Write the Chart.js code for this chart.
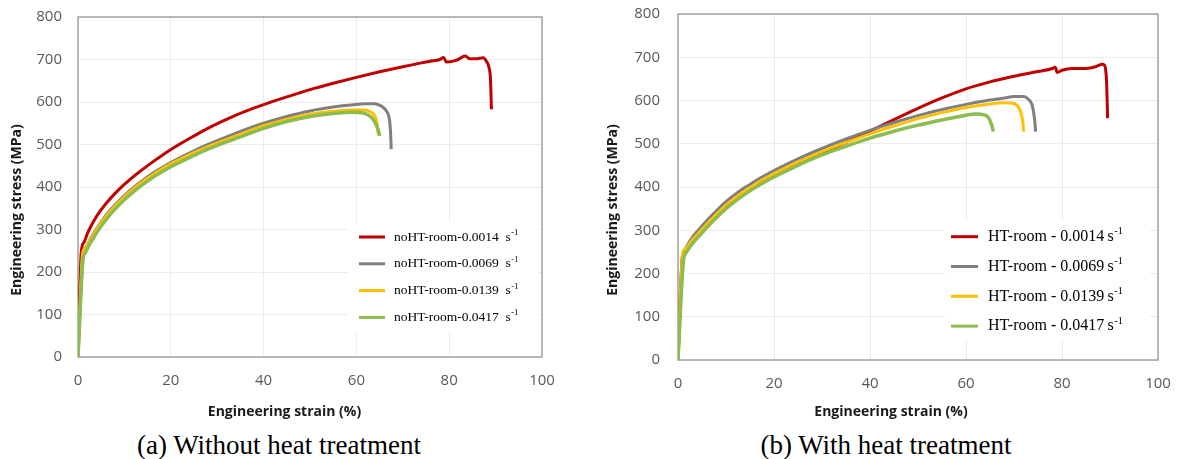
<!DOCTYPE html>
<html lang="en">
<head>
<meta charset="UTF-8">
<title>Engineering stress-strain curves</title>
<script src="https://cdn.jsdelivr.net/npm/chart.js@4"></script>
<style>
  body { margin: 0; background: #fff; width: 1177px; height: 459px; position: relative; overflow: hidden; }
  canvas { position: absolute; top: 0; }
  #chartA { left: 0; }
  #chartB { left: 605px; }
  .caption {
    position: absolute; top: 432px;
    font-family: 'Liberation Serif', 'Times New Roman', serif;
    font-size: 27px; line-height: 27px; color: #000;
    white-space: nowrap; transform: translateX(-50%);
  }
</style>
</head>
<body>
<canvas id="chartA" width="569" height="420"></canvas>
<canvas id="chartB" width="572" height="420"></canvas>
<div class="caption" style="left:279px">(a) Without heat treatment</div>
<div class="caption" style="left:886px">(b) With heat treatment</div>

<script>
// (a) without heat treatment: strain (%) / stress (MPa)
const noHT0014Strain = [0, 0.7, 1.3, 2, 2.7, 3.5, 4.5, 5.5, 6.5, 8, 10, 12, 14, 16.5, 19.7, 24, 28, 32, 36, 40, 45, 50, 55, 60, 65, 70, 74, 76.5, 78, 78.8, 79.4, 81.5, 83.5, 84.4, 86, 87.3, 88, 88.6, 88.9, 89.1];
const noHT0014Stress = [0, 247, 270, 290, 306, 322, 339, 354, 367, 385, 406, 425, 442, 462, 486, 514, 538, 559, 578, 594, 612, 629, 644, 658, 671, 683, 692, 697, 700, 705, 694, 698, 708, 702, 702, 704, 696, 680, 653, 583];
const noHT0069Strain = [0, 1.1, 1.6, 2.2, 3, 4, 5, 6.3, 8, 10, 12, 14, 16.5, 19.7, 24, 28, 32, 36, 40, 45, 50, 55, 59, 62, 64, 65.1, 66, 66.5, 67, 67.2, 67.4, 67.5];
const noHT0069Stress = [0, 238, 254, 268, 284, 302, 318, 337, 358, 380, 399, 416, 435, 456, 480, 500, 518, 535, 550, 566, 579, 588, 593, 596, 596, 592, 585, 578, 566, 552, 520, 489];
const noHT0139Strain = [0, 1.0, 1.4, 2.2, 3, 4, 5, 6.3, 8, 10, 12, 14, 16.5, 19.7, 24, 28, 32, 36, 40, 45, 50, 55, 59, 61.5, 63, 64, 64.4, 64.6, 64.7];
const noHT0139Stress = [0, 245, 254, 267, 282, 300, 316, 334, 355, 377, 396, 413, 432, 453, 476, 495, 512, 528, 544, 559, 571, 578, 581, 581, 577, 567, 552, 537, 522];
const noHT0417Strain = [0, 1.1, 1.6, 2.2, 3, 4, 5, 6.3, 8, 10, 12, 14, 16.5, 19.7, 24, 28, 32, 36, 40, 45, 50, 55, 59, 61.5, 63, 63.8, 64.4, 64.8, 65];
const noHT0417Stress = [0, 232, 246, 259, 274, 292, 308, 327, 348, 370, 389, 406, 425, 446, 469, 489, 506, 522, 538, 554, 566, 573, 576, 574, 566, 556, 543, 530, 520];

// (b) with heat treatment
const ht0014Strain = [0, 0.9, 1.5, 2.2, 3, 4, 5, 6.3, 8, 10, 12.5, 15, 17.5, 20, 25, 30, 35, 40, 45, 50, 55, 60, 65, 70, 75, 78, 78.6, 79, 80, 82, 85, 87, 88.3, 88.8, 89.1, 89.3, 89.5];
const ht0014Stress = [0, 239, 255, 266, 277, 289, 301, 316, 334, 354, 375, 393, 409, 424, 452, 478, 503, 529, 556, 582, 606, 627, 643, 656, 667, 674, 677, 665, 670, 674, 674, 678, 684, 682, 671, 640, 559];
const ht0069Strain = [0, 1.0, 1.5, 2.2, 3, 4, 5, 6.3, 8, 10, 12.5, 15, 17.5, 20, 25, 30, 35, 40, 45, 50, 55, 60, 65, 68, 70, 72, 73, 73.7, 74, 74.3, 74.5];
const ht0069Stress = [0, 240, 256, 270, 284, 297, 310, 326, 345, 366, 388, 406, 423, 438, 465, 489, 511, 531, 549, 565, 579, 591, 601, 606, 609, 609, 603, 592, 578, 555, 528];
const ht0139Strain = [0, 1.0, 1.5, 2.2, 3, 4, 5, 6.3, 8, 10, 12.5, 15, 17.5, 20, 25, 30, 35, 40, 45, 50, 55, 60, 65, 68, 70, 71, 71.6, 71.9, 72];
const ht0139Stress = [0, 250, 256, 266, 278, 290, 302, 318, 337, 358, 380, 398, 416, 431, 458, 482, 503, 523, 541, 558, 572, 584, 592, 595, 593, 583, 565, 545, 528];
const ht0417Strain = [0, 1.2, 1.7, 2.4, 3, 4, 5, 6.3, 8, 10, 12.5, 15, 17.5, 20, 25, 30, 35, 40, 45, 50, 55, 60, 62, 64, 64.8, 65.3, 65.7];
const ht0417Stress = [0, 235, 248, 260, 269, 282, 294, 310, 329, 350, 372, 391, 408, 423, 450, 474, 494, 513, 529, 543, 555, 566, 569, 566, 558, 545, 528];

const noHTLabels = ['noHT-room-0.0014', 'noHT-room-0.0069', 'noHT-room-0.0139', 'noHT-room-0.0417'];
const htLabels = ['HT-room - 0.0014', 'HT-room - 0.0069', 'HT-room - 0.0139', 'HT-room - 0.0417'];
const seriesColors = ['#c00000', '#7f7f7f', '#ffc000', '#8cbb4e'];
const xTickValues = [0, 20, 40, 60, 80, 100];
const yTickValues = [0, 100, 200, 300, 400, 500, 600, 700, 800];

// frame round the plot area
const plotFrame = {
  id: 'plotFrame',
  beforeDatasetsDraw(chart) {
    const { ctx, chartArea: a } = chart;
    ctx.save();
    ctx.strokeStyle = '#a3a3a3';
    ctx.lineWidth = 1.5;
    ctx.strokeRect(a.left, a.top, a.right - a.left, a.bottom - a.top);
    ctx.restore();
  }
};

// legend inside the plot, with "s-1" as superscript
const legendInside = {
  id: 'legendInside',
  afterDraw(chart, args, o) {
    const ctx = chart.ctx;
    ctx.save();
    ctx.fillStyle = '#fff';
    ctx.fillRect(o.box[0], o.box[1], o.box[2], o.box[3]);
    chart.data.datasets.forEach((ds, i) => {
      const y = o.top + i * o.step;
      ctx.strokeStyle = ds.borderColor;
      ctx.lineWidth = 3;
      ctx.beginPath();
      ctx.moveTo(o.lineX[0], y);
      ctx.lineTo(o.lineX[1], y);
      ctx.stroke();
      ctx.fillStyle = '#000';
      ctx.textAlign = 'left';
      ctx.textBaseline = 'middle';
      ctx.font = o.size + 'px "Liberation Serif", serif';
      const main = ds.label + o.sep + 's';
      ctx.fillText(main, o.textX, y);
      const w = ctx.measureText(main).width;
      ctx.font = (o.size * 0.64) + 'px "Liberation Serif", serif';
      ctx.fillText('-1', o.textX + w + 0.5, y - o.size * 0.32);
    });
    ctx.restore();
  }
};

const tickFont = { family: 'Open Sans', size: 15 };
const titleFont = { family: 'Open Sans', size: 14, weight: 'bold', lineHeight: 1.2 };

function makeChart(id, labels, series, lay) {
  const datasets = series.map((s, i) => ({
    label: labels[i],
    data: s[0].map((x, j) => ({ x: x, y: s[1][j] })),
    borderColor: seriesColors[i],
    backgroundColor: seriesColors[i],
    borderWidth: i === 3 ? 3.5 : 3,
    pointRadius: 0,
    cubicInterpolationMode: 'monotone',
    fill: false,
    order: 3 - i
  }));

  return new Chart(document.getElementById(id), {
    type: 'line',
    data: { datasets: datasets },
    options: {
      responsive: false,
      animation: false,
      devicePixelRatio: 1,
      layout: { padding: 0 },
      plugins: {
        legend: { display: false },
        tooltip: { enabled: false },
        title: {
          display: true, position: 'left', text: 'Engineering stress (MPa)',
          color: '#1a1a1a', font: titleFont, padding: { top: lay.yTitlePad, bottom: 0 }
        },
        subtitle: {
          display: true, position: 'bottom', text: 'Engineering strain (%)',
          color: '#1a1a1a', font: titleFont, padding: 0
        },
        legendInside: lay.legend
      },
      scales: {
        x: {
          type: 'linear', min: 0, max: 100,
          grid: { color: '#ececec', drawTicks: false },
          border: { display: false },
          ticks: { padding: 15, color: '#595959', font: tickFont },
          afterBuildTicks: sc => { sc.ticks = xTickValues.map(v => ({ value: v })); },
          afterFit: sc => { sc.height = lay.xAxisHeight; sc.paddingRight = lay.padRight; }
        },
        y: {
          type: 'linear', min: 0, max: 800,
          grid: { color: '#ececec', drawTicks: false },
          border: { display: false },
          ticks: { padding: lay.yTickPad, color: '#595959', font: tickFont },
          afterBuildTicks: sc => { sc.ticks = yTickValues.map(v => ({ value: v })); },
          afterFit: sc => { sc.width = lay.yAxisWidth; sc.paddingTop = lay.padTop; }
        }
      }
    },
    plugins: [plotFrame, legendInside]
  });
}

makeChart('chartA', noHTLabels, [
  [noHT0014Strain, noHT0014Stress],
  [noHT0069Strain, noHT0069Stress],
  [noHT0139Strain, noHT0139Stress],
  [noHT0417Strain, noHT0417Stress]
], {
  yTitlePad: 8.6, yAxisWidth: 52.6, yTickPad: 16, padTop: 17, padRight: 27, xAxisHeight: 46.2,
  legend: { box: [348, 222, 190, 110], top: 237, step: 26.8, lineX: [359, 385], textX: 394, size: 13.5, sep: '  ' }
});

makeChart('chartB', htLabels, [
  [ht0014Strain, ht0014Stress],
  [ht0069Strain, ht0069Stress],
  [ht0139Strain, ht0139Stress],
  [ht0417Strain, ht0417Stress]
], {
  yTitlePad: 0, yAxisWidth: 56.2, yTickPad: 18, padTop: 14, padRight: 19, xAxisHeight: 43.2,
  legend: { box: [340, 220, 205, 120], top: 236.7, step: 29.8, lineX: [346, 373], textX: 383, size: 16, sep: '\u2009' }
});
</script>
</body>
</html>
